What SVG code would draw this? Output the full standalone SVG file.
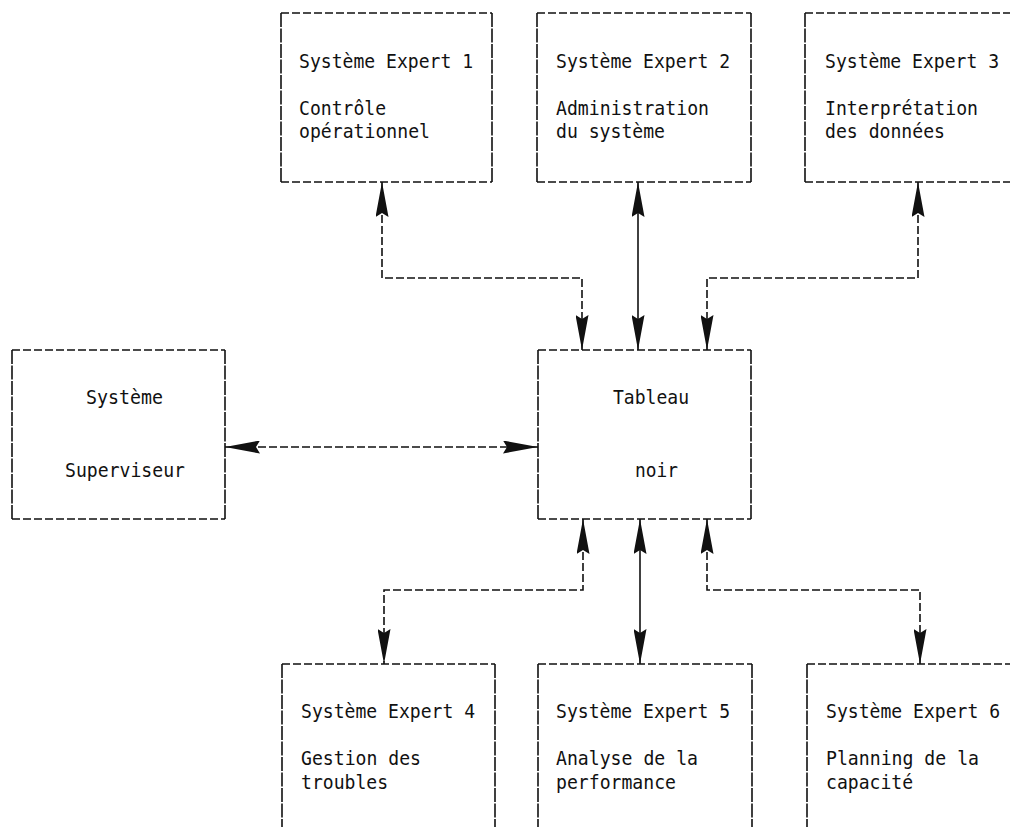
<svg xmlns="http://www.w3.org/2000/svg" width="1010" height="827" viewBox="0 0 1010 827">
<style>
.bx{fill:none;stroke:#111;stroke-width:1.6}
.h{stroke-dasharray:8 3}
.v{stroke-dasharray:14 1.5}
.t{font-family:"DejaVu Sans Mono","Liberation Mono",monospace;font-size:20px;fill:#111}
.c{fill:none;stroke:#111;stroke-width:1.6}
.cd{stroke-dasharray:8 3}
</style>
<defs>
<marker id="ah" markerUnits="userSpaceOnUse" viewBox="0 0 35 13" refX="35" refY="6.5" markerWidth="35" markerHeight="13" orient="auto-start-reverse">
<path d="M0,0 L35,6.5 L0,13 L4,6.5 z" fill="#111"/>
</marker>
</defs>
<rect width="1010" height="827" fill="#fff"/>

<g id="se1">
<path class="bx h" d="M281,13 H492 M281,182 H492"/>
<path class="bx v" d="M281,13 V182 M492,13 V182"/>
<text class="t" x="299" y="68" textLength="174" lengthAdjust="spacingAndGlyphs">Système Expert 1</text>
<text class="t" x="299" y="115" textLength="87" lengthAdjust="spacingAndGlyphs">Contrôle</text>
<text class="t" x="299" y="138" textLength="131" lengthAdjust="spacingAndGlyphs">opérationnel</text>
</g>
<g id="se2">
<path class="bx h" d="M537,13 H751 M537,182 H751"/>
<path class="bx v" d="M537,13 V182 M751,13 V182"/>
<text class="t" x="556" y="68" textLength="174" lengthAdjust="spacingAndGlyphs">Système Expert 2</text>
<text class="t" x="556" y="115" textLength="153" lengthAdjust="spacingAndGlyphs">Administration</text>
<text class="t" x="556" y="138" textLength="109" lengthAdjust="spacingAndGlyphs">du système</text>
</g>
<g id="se3">
<path class="bx h" d="M805,13 H1012 M805,182 H1012"/>
<path class="bx v" d="M805,13 V182"/>
<text class="t" x="825" y="68" textLength="174" lengthAdjust="spacingAndGlyphs">Système Expert 3</text>
<text class="t" x="825" y="115" textLength="153" lengthAdjust="spacingAndGlyphs">Interprétation</text>
<text class="t" x="825" y="138" textLength="120" lengthAdjust="spacingAndGlyphs">des données</text>
</g>
<g id="superviseur">
<path class="bx h" d="M12,350 H225 M12,519 H225"/>
<path class="bx v" d="M12,350 V519 M225,350 V519"/>
<text class="t" x="86" y="404" textLength="77" lengthAdjust="spacingAndGlyphs">Système</text>
<text class="t" x="65" y="477" textLength="120" lengthAdjust="spacingAndGlyphs">Superviseur</text>
</g>
<g id="tableau">
<path class="bx h" d="M538,350 H751 M538,519 H751"/>
<path class="bx v" d="M538,350 V519 M751,350 V519"/>
<text class="t" x="613" y="404" textLength="76" lengthAdjust="spacingAndGlyphs">Tableau</text>
<text class="t" x="635" y="477" textLength="43" lengthAdjust="spacingAndGlyphs">noir</text>
</g>
<g id="se4">
<path class="bx h" d="M282,664 H495"/>
<path class="bx v" d="M282,664 V830 M495,664 V830"/>
<text class="t" x="301" y="718" textLength="174" lengthAdjust="spacingAndGlyphs">Système Expert 4</text>
<text class="t" x="301" y="765" textLength="120" lengthAdjust="spacingAndGlyphs">Gestion des</text>
<text class="t" x="301" y="789" textLength="87" lengthAdjust="spacingAndGlyphs">troubles</text>
</g>
<g id="se5">
<path class="bx h" d="M538,664 H752"/>
<path class="bx v" d="M538,664 V830 M752,664 V830"/>
<text class="t" x="556" y="718" textLength="174" lengthAdjust="spacingAndGlyphs">Système Expert 5</text>
<text class="t" x="556" y="765" textLength="142" lengthAdjust="spacingAndGlyphs">Analyse de la</text>
<text class="t" x="556" y="789" textLength="120" lengthAdjust="spacingAndGlyphs">performance</text>
</g>
<g id="se6">
<path class="bx h" d="M807,664 H1012"/>
<path class="bx v" d="M807,664 V830"/>
<text class="t" x="826" y="718" textLength="174" lengthAdjust="spacingAndGlyphs">Système Expert 6</text>
<text class="t" x="826" y="765" textLength="153" lengthAdjust="spacingAndGlyphs">Planning de la</text>
<text class="t" x="826" y="789" textLength="87" lengthAdjust="spacingAndGlyphs">capacité</text>
</g>

<g id="connectors">
<path class="c cd" d="M382,182 V278 H582 V350" marker-start="url(#ah)" marker-end="url(#ah)"/>
<path class="c" d="M638,182 V350" marker-start="url(#ah)" marker-end="url(#ah)"/>
<path class="c cd" d="M918,182 V278 H707 V350" marker-start="url(#ah)" marker-end="url(#ah)"/>
<path class="c cd" d="M225,447 H538" marker-start="url(#ah)" marker-end="url(#ah)"/>
<path class="c cd" d="M583,519 V590 H384 V664" marker-start="url(#ah)" marker-end="url(#ah)"/>
<path class="c" d="M640,519 V664" marker-start="url(#ah)" marker-end="url(#ah)"/>
<path class="c cd" d="M707,519 V590 H920 V664" marker-start="url(#ah)" marker-end="url(#ah)"/>
</g>
</svg>
